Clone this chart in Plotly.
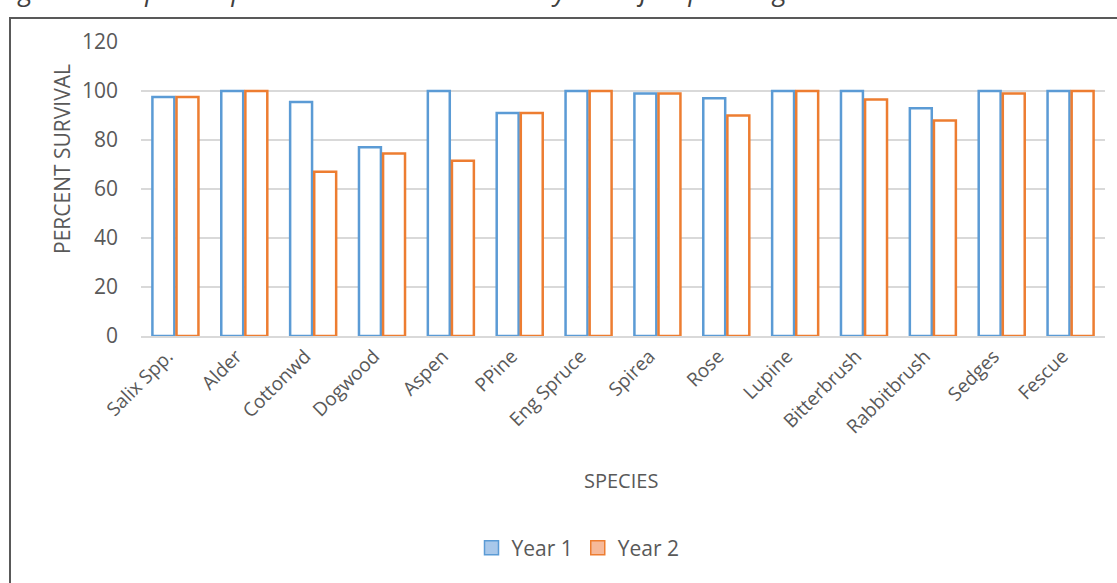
import plotly.graph_objects as go

species = ["Salix Spp.", "Alder", "Cottonwd", "Dogwood", "Aspen", "PPine",
           "Eng Spruce", "Spirea", "Rose", "Lupine", "Bitterbrush",
           "Rabbitbrush", "Sedges", "Fescue"]
year1 = [97.5, 100, 95.5, 77, 100, 91, 100, 99, 97, 100, 100, 93, 100, 100]
year2 = [97.5, 100, 67, 74.5, 71.5, 91, 100, 99, 90, 100, 96.5, 88, 99, 100]
y_ticks = [0, 20, 40, 60, 80, 100, 120]

BLUE = "#5B9BD5"
ORANGE = "#ED7D31"
TEXT = "#595959"
FONT = "Open Sans"

W, H = 1117, 583
L, R, T, B = 141, 12, 42, 247
PW, PH = W - L - R, H - T - B


def px_x(x):
    return (x - L) / PW


def px_y(y):
    return (H - B - y) / PH


fig = go.Figure()
fig.add_trace(go.Bar(x=species, y=year1, name="Year 1", showlegend=False,
                     marker=dict(color="white", line=dict(color=BLUE, width=2.5))))
fig.add_trace(go.Bar(x=species, y=year2, name="Year 2", showlegend=False,
                     marker=dict(color="white", line=dict(color=ORANGE, width=2.5))))

# legend swatches
fig.add_trace(go.Scatter(x=[None], y=[None], mode="markers", name="Year 1",
                         marker=dict(symbol="square", size=14, color="#A9C8EA",
                                     line=dict(color=BLUE, width=1.5))))
fig.add_trace(go.Scatter(x=[None], y=[None], mode="markers", name="Year 2",
                         marker=dict(symbol="square", size=14, color="#F6B99A",
                                     line=dict(color=ORANGE, width=1.5))))

fig.update_layout(
    width=W, height=H,
    margin=dict(l=L, r=R, t=T, b=B),
    paper_bgcolor="white", plot_bgcolor="white",
    barmode="group", bargap=0.30, bargroupgap=0.09,
    font=dict(family=FONT, color=TEXT, size=19),
    legend=dict(orientation="h", x=px_x(578), y=px_y(548), xanchor="center",
                yanchor="middle", font=dict(size=21, color=TEXT),
                itemwidth=30, traceorder="normal"),
    xaxis=dict(tickangle=-45, tickfont=dict(size=19, color=TEXT),
               showgrid=False, showline=True, linecolor="#D9D9D9", linewidth=1.5,
               ticks="", ticklabelshift=-8),
    yaxis=dict(range=[0, 120], tickvals=y_ticks, tickfont=dict(size=21, color=TEXT),
               showgrid=True, gridcolor="#D9D9D9", gridwidth=1.5,
               zeroline=False, showline=False, ticks="", ticklabelstandoff=22),
    shapes=[dict(type="rect", xref="paper", yref="paper",
                 x0=px_x(10), x1=px_x(1125), y0=px_y(600), y1=px_y(18),
                 line=dict(color="#595959", width=2), fillcolor="rgba(0,0,0,0)",
                 layer="below")],
    annotations=[
        dict(text="PERCENT SURVIVAL", xref="paper", yref="paper",
             x=px_x(62), y=px_y(159), textangle=-90, showarrow=False,
             font=dict(size=21, color=TEXT), xanchor="center", yanchor="middle"),
        dict(text="SPECIES", xref="paper", yref="paper",
             x=px_x(621), y=px_y(480), showarrow=False,
             font=dict(size=20, color=TEXT), xanchor="center", yanchor="middle"),
        dict(text="<i>Figure 12: Riparian plant survival one and two years after planting</i>",
             xref="paper", yref="paper", x=px_x(-3), y=px_y(10), showarrow=False,
             font=dict(size=27, color="#404040"), xanchor="left", yanchor="bottom"),
    ],
)

fig.write_html("out.html")
